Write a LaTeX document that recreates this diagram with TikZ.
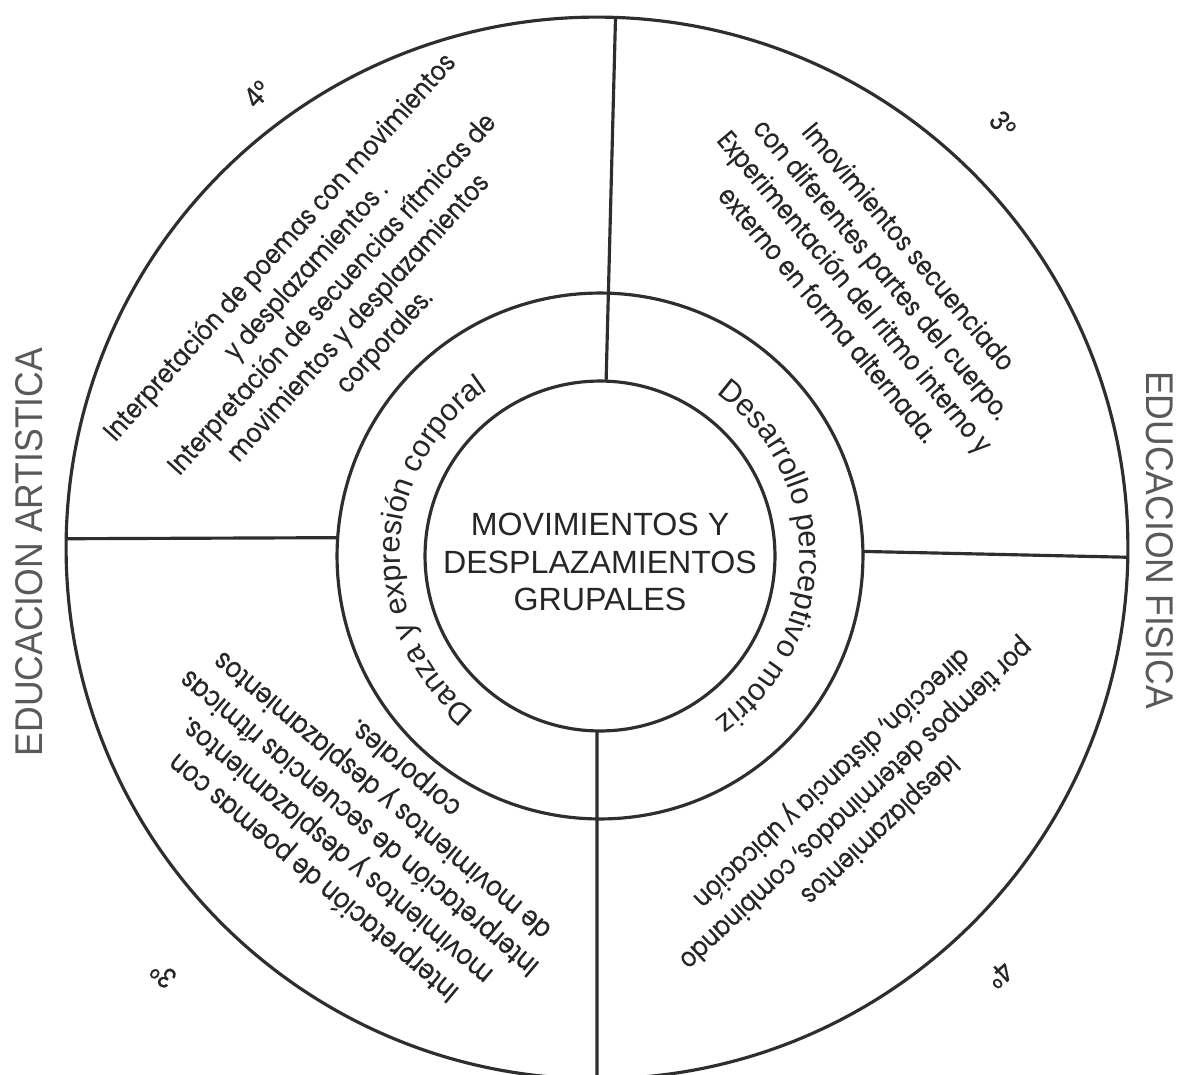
\documentclass[tikz,border=0pt]{standalone}
\usepackage{fontspec}
\setmainfont{Liberation Sans}
\newfontfamily\gothic[FakeStretch=0.85,FakeBold=0.4]{Poppins}
\newfontfamily\arial{Liberation Sans}
\newfontfamily\titlefont[FakeStretch=0.92]{Liberation Sans}
\usetikzlibrary{decorations.text}
\begin{document}
\begin{tikzpicture}[x=0.02cm,y=0.02cm,
  ring/.style={circle, draw=black!82, line width=1.8pt, inner sep=0pt, outer sep=0pt},
  divider/.style={draw=black!82, line width=1.8pt},
  block/.style={align=center, text=black!85, font=\gothic\fontsize{15.5}{20}\selectfont, inner sep=0pt},
  bigblock/.style={block, font=\gothic\fontsize{16.2}{20.3}\selectfont},
  grade/.style={text=black!85, font=\gothic\fontsize{16}{18}\selectfont, inner sep=0pt},
  title/.style={text=black!65, font=\titlefont\fontsize{22}{24}\selectfont, inner sep=0pt},
  core/.style={align=center, text=black!85, font=\arial\fontsize{18.3}{21.5}\selectfont, inner sep=0pt}
]
\useasboundingbox (0,0) rectangle (1180,-1075);
\clip (0,0) rectangle (1180,-1075);
\fill[white] (0,0) rectangle (1180,-1075);

\node[ring, minimum size=21.24cm] (outer) at (597,-548) {};
\node[ring, minimum size=10.52cm] (middle) at (600,-556) {};
\node[ring, minimum size=7cm] (inner) at (600,-556) {};

\draw[divider] (outer.88.8) -- (inner.88.4);
\draw[divider] (inner.269) -- (outer.270.1);
\draw[divider] (outer.179.1) -- (middle.176.7);
\draw[divider] (middle.1.1) -- (outer.359.46);

\node[core] (center) at (600,-562) {MOVIMIENTOS Y\\DESPLAZAMIENTOS\\GRUPALES};

\path[decorate, decoration={text along path, text align=center, text color=black!85,
  text={|\arial\fontsize{17.5}{20}\selectfont|Danza y expresión corporal}}]
  (inner.center) ++(237.7:4cm) arc[start angle=237.7, end angle=117.7, radius=4cm];
\path[decorate, decoration={text along path, text align=center, text color=black!85,
  text={|\arial\fontsize{17.5}{20}\selectfont|Desarrollo perceptivo motriz}}]
  (inner.center) ++(59.6:4cm) arc[start angle=59.6, end angle=-60.4, radius=4cm];

\node[block, rotate=48] (tl) at (333,-295) {Interpretación de poemas con movimientos\\y desplazamientos .\\Interpretación de secuencias rítmicas de\\movimientos y desplazamientos\\corporales.};
\node[block, rotate=-50] (tr) at (869,-280) {Imovimientos secuenciado\\con diferentes partes del cuerpo.\\Experimentación del ritmo interno y\\externo en forma alternada.};
\node[bigblock, rotate=140] (bl) at (360,-822) {Interpretación de poemas con\\movimientos y desplazamientos.\\Interpretación de secuencias rítmicas\\de movimientos y desplazamientos\\corporales.};
\node[block, rotate=223] (br) at (855,-803) {Idesplazamientos\\por tiempos determinados, combinando\\dirección, distancia y ubicación};

\node[grade, rotate=47] (g4a) at (257,-94) {4°};
\node[grade, rotate=-50] (g3a) at (1003,-124) {3°};
\node[grade, rotate=140] (g3b) at (163,-975) {3°};
\node[grade, rotate=223] (g4b) at (1000,-975) {4°};

\node[title, rotate=90] (edart) at (29,-552) {EDUCACION ARTISTICA};
\node[title, rotate=-90] (edfis) at (1160,-540) {EDUCACION FISICA};
\end{tikzpicture}
\end{document}
